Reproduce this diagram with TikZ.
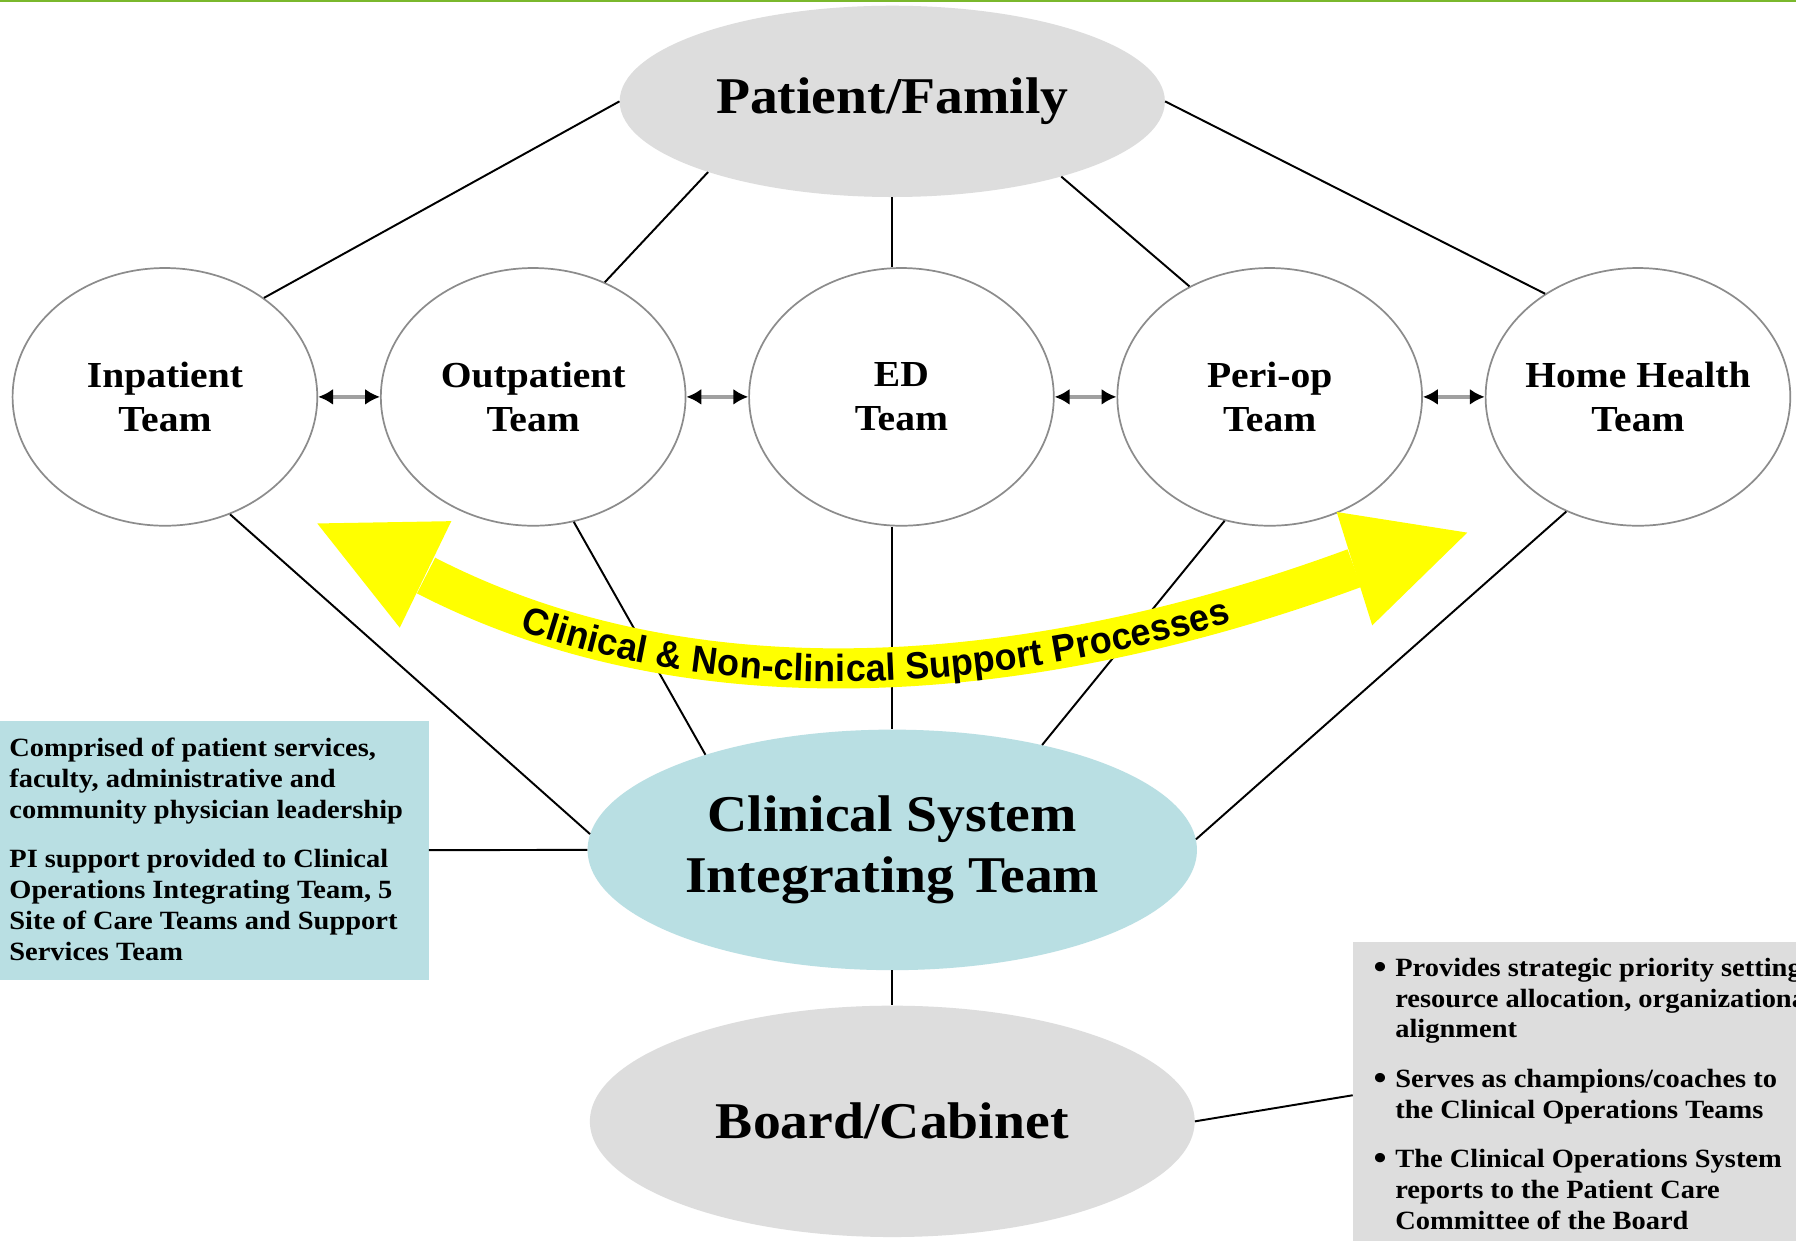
\documentclass[tikz,border=0pt]{standalone}
\usepackage{fontspec}
\setmainfont{Liberation Serif}[FakeStretch=1.08]
\newfontfamily\arrowfont{Liberation Sans}[FakeStretch=0.95]
\usetikzlibrary{shapes.geometric,arrows.meta,decorations.text}
\definecolor{pfgray}{HTML}{DDDDDD}
\definecolor{csteal}{HTML}{B9DFE3}
\definecolor{topgreen}{HTML}{7AB82C}
\definecolor{ringgray}{HTML}{8C8C8C}
\definecolor{linkgray}{HTML}{A0A0A0}
\definecolor{arrowyellow}{HTML}{FFFF00}
\begin{document}
\begin{tikzpicture}[x=1pt,y=-1pt,
  team/.style={ellipse, draw=ringgray, line width=1.5pt, fill=white, minimum width=266pt, minimum height=225pt, inner sep=0pt},
  teamlabel/.style={align=center, font=\fontsize{32}{38}\selectfont\bfseries, inner sep=0pt},
  conn/.style={draw=black, line width=1.7pt},
  link/.style={draw=linkgray, line width=3pt, {Latex[length=13pt,width=14pt,black]}-{Latex[length=13pt,width=14pt,black]}},
  bigtext/.style={font=\fontsize{45}{53}\selectfont\bfseries, align=center, inner sep=0pt},
  boxtext/.style={font=\fontsize{23}{27}\selectfont\bfseries, align=left, anchor=north west, inner sep=0pt},
  bullettext/.style={font=\fontsize{30}{27}\selectfont\bfseries, anchor=base west, inner sep=0pt}
]
\useasboundingbox (0,0) rectangle (1568,1083);
\clip (0,0) rectangle (1568,1083);
\fill[white] (0,0) rectangle (1568,1083);
\fill[topgreen] (0,0) rectangle (1568,2);

% main ellipses
\node[ellipse, fill=pfgray, minimum width=476pt, minimum height=167pt, inner sep=0pt] (pf) at (779,88.5) {};
\node[bigtext] (pft) at (pf.center) {Patient/Family};

\node[team] (inp) at (144,346.5) {};
\node[team] (out) at (465.5,346.5) {};
\node[team] (ed)  at (787,346.5) {};
\node[team] (peri) at (1108.5,346.5) {};
\node[team] (hh) at (1430,346.5) {};
\node[teamlabel] (inpt) at (inp.center) {Inpatient\\Team};
\node[teamlabel] (outt) at (out.center) {Outpatient\\Team};
\node[teamlabel] (edt) at (ed.center) {ED\\Team};
\node[teamlabel] (perit) at (peri.center) {Peri-op\\Team};
\node[teamlabel] (hht) at (hh.center) {Home Health\\Team};

\node[ellipse, fill=csteal, minimum width=532pt, minimum height=210pt, inner sep=0pt] (cs) at (779,742) {};
\node[bigtext] (cst) at (cs.center) {Clinical System\\Integrating Team};

\node[ellipse, fill=pfgray, minimum width=528pt, minimum height=202pt, inner sep=0pt] (bc) at (779,979) {};
\node[bigtext] (bct) at (bc.center) {Board/Cabinet};

% side boxes
\node[fill=csteal, inner sep=0pt, minimum width=380pt, minimum height=226pt, anchor=north west] (lbox) at (-6,629) {};
\node[boxtext] (lt1) at (8,644) {Comprised of patient services,\\faculty, administrative and\\community physician leadership};
\node[boxtext] (lt2) at (8,741) {PI support provided to Clinical\\Operations Integrating Team, 5\\Site of Care Teams and Support\\Services Team};

\node[fill=pfgray, inner sep=0pt, minimum width=420pt, minimum height=268pt, anchor=north west] (rbox) at (1181,822) {};
\node[bullettext] (b1) at (1199,854) {•};
\node[bullettext] (b2) at (1199,951) {•};
\node[bullettext] (b3) at (1199,1021) {•};
\node[boxtext] (rt1) at (1218,836) {Provides strategic priority setting,\\resource allocation, organizational\\alignment};
\node[boxtext] (rt2) at (1218,933) {Serves as champions/coaches to\\the Clinical Operations Teams};
\node[boxtext] (rt3) at (1218,1003) {The Clinical Operations System\\reports to the Patient Care\\Committee of the Board};

% connectors
\draw[conn] (pf.180) -- (inp.45.7);
\draw[conn] (pf.201.9) -- (out.58.9);
\draw[conn] (pf.south) -- (ed.north -| pf.south);
\draw[conn] (pf.336.6) -- (peri.126.8);
\draw[conn] (pf.0) -- (hh.132.5);
\draw[conn] (inp.299.3) -- (cs.177);
\draw[conn] (out.288.3) -- (cs.153.3);
\draw[conn] (ed.south -| cs.north) -- (cs.north);
\draw[conn] (peri.250.8) -- (cs.35.5);
\draw[conn] (hh.238.9) -- (cs.2.8);
\draw[conn] (cs.south) -- (bc.north);
\draw[conn] (lbox.east) -- (cs.west);
\draw[conn] (bc.east) -- (rbox.west);

\draw[link] (inp.east) -- (out.west);
\draw[link] (out.east) -- (ed.west);
\draw[link] (ed.east) -- (peri.west);
\draw[link] (peri.east) -- (hh.west);

% yellow double arrow
\coordinate (ls) at (372,502.5);
\coordinate (rs) at (1182.5,496);
\draw[arrowyellow, line width=35pt] (ls) .. controls (620,630) and (925,591) .. (rs);
\fill[arrowyellow] (277,457) -- (394,455) -- (349,548) -- cycle;
\fill[arrowyellow] (1167,447) -- (1281,465) -- (1198,546) -- cycle;
\path[decorate, decoration={text along path, text={|\arrowfont\bfseries\fontsize{33}{36}\selectfont|Clinical {\&} Non-clinical Support Processes}, text align=center, text align/left indent=0pt, text align/right indent=24pt, raise=-11.5pt}] (ls) .. controls (620,630) and (925,591) .. (rs);
\end{tikzpicture}
\end{document}
